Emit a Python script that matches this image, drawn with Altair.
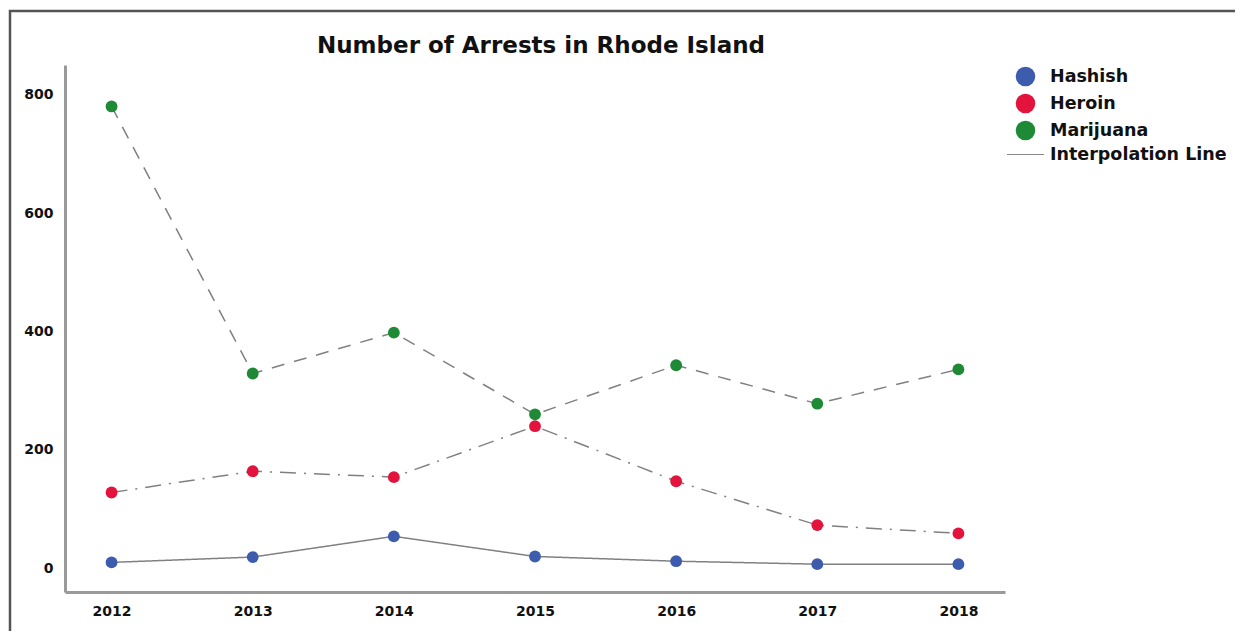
import altair as alt
import pandas as pd

years = [2012, 2013, 2014, 2015, 2016, 2017, 2018]
hashish = [10, 19, 54, 20, 12, 7, 7]
heroin = [128, 164, 154, 240, 147, 73, 59]
marijuana = [780, 329, 398, 260, 343, 278, 336]

series_names = ["Hashish", "Heroin", "Marijuana"]
legend_names = ["Hashish", "Heroin", "Marijuana", "Interpolation Line"]
colors = ["#3d5cad", "#e3133d", "#1f8a35", "#888888"]
dashes = [[1, 0], [16, 8, 2, 8], [13, 10]]

rows = []
for name, vals in zip(series_names, [hashish, heroin, marijuana]):
    for y, v in zip(years, vals):
        rows.append({"Year": y, "Arrests": v, "Drug": name})
df = pd.DataFrame(rows)

W, H = 940, 527
font = "DejaVu Sans"

x_enc = alt.X("Year:Q", scale=alt.Scale(domain=[2011.67, 2018.33], nice=False, zero=False),
              axis=alt.Axis(values=years, format="d", title=None))
y_enc = alt.Y("Arrests:Q", scale=alt.Scale(domain=[-40, 850], nice=False, zero=False),
              axis=alt.Axis(values=[0, 200, 400, 600, 800], title=None))

frame = alt.Chart(pd.DataFrame({"k": [0]})).mark_rect(
    fill=None, stroke="#555555", strokeWidth=2.5
).encode(
    x=alt.value(-55), x2=alt.value(1300), y=alt.value(-54), y2=alt.value(640)
)

lines = alt.Chart(df).mark_line(color="#808080", strokeWidth=1.5).encode(
    x=x_enc, y=y_enc,
    strokeDash=alt.StrokeDash("Drug:N", scale=alt.Scale(domain=series_names, range=dashes), legend=None),
    detail="Drug:N",
)

leg = dict(title=None, orient="none", legendX=950, legendY=1,
           symbolSize=380, labelFontSize=17.5, labelFont=font,
           labelFontWeight="bold", labelColor="#111", labelLimit=400,
           rowPadding=0, labelOffset=14, symbolOpacity=1)

points = alt.Chart(df).mark_point(filled=True, size=140, opacity=1).encode(
    x=x_enc, y=y_enc,
    color=alt.Color("Drug:N", scale=alt.Scale(domain=legend_names, range=colors),
                    legend=alt.Legend(**leg)),
    shape=alt.Shape("Drug:N", scale=alt.Scale(
        domain=legend_names,
        range=["circle", "circle", "circle", "M-1.9,-0.06H1.9V0.06H-1.9Z"]),
        legend=alt.Legend(**leg)),
)

chart = alt.layer(frame, lines, points).properties(
    width=W, height=H,
    title=alt.Title("Number of Arrests in Rhode Island", font=font, fontSize=23,
                    fontWeight="bold", color="#111", offset=-48, anchor="middle",
                    frame="group", dx=6),
    autosize=alt.AutoSizeParams(type="none"),
    padding={"left": 57, "top": 57, "right": 230, "bottom": 39},
).configure_view(stroke=None).configure_axis(
    grid=False, ticks=False, domainColor="#9a9a9a", domainWidth=3,
    labelFont=font, labelFontWeight="bold", labelFontSize=14, labelColor="#111",
).configure_axisY(labelPadding=12).configure_axisX(labelPadding=12)

chart.save("out.html", embed_options={"renderer": "svg", "actions": False})
